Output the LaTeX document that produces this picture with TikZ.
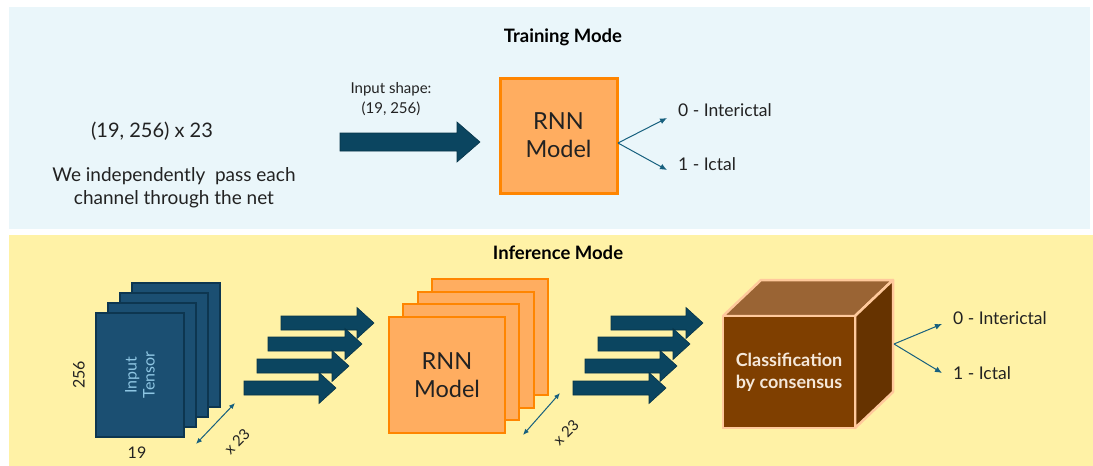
\documentclass[tikz,border=0pt]{standalone}
\usepackage{fontspec}
\setmainfont{Lato}
\usetikzlibrary{arrows.meta}
\definecolor{topbg}{HTML}{EAF6FA}
\definecolor{botbg}{HTML}{FFF2A6}
\definecolor{arrowfill}{HTML}{0B4560}
\definecolor{arrowedge}{HTML}{073448}
\definecolor{thinarrow}{HTML}{17607E}
\definecolor{tensorfill}{HTML}{1B4F72}
\definecolor{tensoredge}{HTML}{0D3650}
\definecolor{tensortext}{HTML}{8EC6E3}
\definecolor{rnnfill}{HTML}{FFAD60}
\definecolor{rnnedge}{HTML}{FF8500}
\definecolor{cubefront}{HTML}{7F3F00}
\definecolor{cubetop}{HTML}{9A6434}
\definecolor{cubeside}{HTML}{663300}
\definecolor{cubeedge}{HTML}{FFC99C}
\definecolor{cubetext}{HTML}{F5E8DA}
\definecolor{txt}{HTML}{222222}
\newcommand{\blockarrow}[6]{% x1 x2 y shafthalf headhalf headlen
  \filldraw[fill=arrowfill,draw=arrowedge,line width=0.6pt,line join=miter]
    (#1,#3-#4) -- (#2-#6,#3-#4) -- (#2-#6,#3-#5) -- (#2,#3) -- (#2-#6,#3+#5)
    -- (#2-#6,#3+#4) -- (#1,#3+#4) -- cycle;}
\tikzset{
  lbl/.style={text=txt,inner sep=0pt,font=\fontsize{17.5}{21}\selectfont},
  title/.style={text=black,inner sep=0pt,font=\fontsize{18.5}{22}\selectfont\bfseries},
  thin/.style={draw=thinarrow,line width=1pt,-{Latex[length=7pt,width=6pt]}},
  dbl/.style={draw=thinarrow,line width=1pt,{Latex[length=6pt,width=5pt]}-{Latex[length=6pt,width=5pt]}},
  tensorlayer/.style={fill=tensorfill,draw=tensoredge,line width=1.8pt},
  rnnlayer/.style={fill=rnnfill,draw=rnnedge,line width=2.2pt},
}
\begin{document}
\begin{tikzpicture}[x=1pt,y=-1pt]
\useasboundingbox (0,0) rectangle (1093,466);
\fill[white] (0,0) rectangle (1093,466);
\fill[topbg] (9,7) rectangle (1090,229);
\fill[botbg] (9,235) rectangle (1093,466);

% ---------- Training mode ----------
\node[title] (ttitle) at (563,37) {Training Mode};
\node[lbl,font=\fontsize{20}{24}\selectfont] (shape23) at (152,131) {(19, 256) x 23};
\node[lbl,font=\fontsize{19}{23}\selectfont,align=center] (indep) at (174,188) {We independently\ \ pass each\\channel through the net};
\node[lbl,align=center,font=\fontsize{15}{20}\selectfont] (inshape) at (391,99) {Input shape:\\(19, 256)};
\blockarrow{340}{480}{142}{9}{20}{23}
\node[rnnlayer,line width=3pt,minimum width=117pt,minimum height=115pt,inner sep=0pt,
  font=\fontsize{23.5}{28}\selectfont,text=txt,align=center] (rnn) at (558.5,135.5) {RNN\\Model};
\node[lbl,anchor=west] (t0) at (678,110) {0 - Interictal};
\node[lbl,anchor=west] (t1) at (678,164) {1 - Ictal};
\coordinate (rnnout) at (618,143);
\coordinate (t0tip) at (667,118);
\coordinate (t1tip) at (667,170);
\draw[thin] (rnnout) -- (t0tip);
\draw[thin] (rnnout) -- (t1tip);

% ---------- Inference mode ----------
\node[title] (ititle) at (558,253) {Inference Mode};

% input tensor stack
\foreach \i in {3,2,1}{
  \draw[tensorlayer] (96+12*\i,313-10*\i) rectangle (184+12*\i,437-10*\i);
}
\node[tensorlayer,minimum width=88pt,minimum height=124pt,inner sep=0pt] (tensor) at (140,375) {};
\node[text=tensortext,rotate=90,align=center,font=\fontsize{16}{18}\selectfont] (tensortxt) at (tensor.center) {Input\\Tensor};
\node[lbl,rotate=90,font=\fontsize{16}{18}\selectfont] (d256) at (79,375) {256};
\node[lbl,font=\fontsize{16}{18}\selectfont] (d19) at (137,453) {19};
\coordinate (ta) at (196,444);
\coordinate (tb) at (235,403);
\draw[dbl] (ta) -- (tb);
\node[lbl,rotate=45,font=\fontsize{15}{17}\selectfont] (x23a) at (237,442) {x 23};

% arrows tensor -> rnn
\blockarrow{281}{374}{323}{7}{15.5}{17}
\blockarrow{268}{362}{344}{7}{15.5}{17}
\blockarrow{257}{349}{366}{7}{15.5}{17}
\blockarrow{244}{336}{388}{7}{15.5}{17}

% rnn stack
\foreach \i in {3,2,1}{
  \draw[rnnlayer] (389+14.3*\i,317-12.7*\i) rectangle (505+14.3*\i,433-12.7*\i);
}
\node[rnnlayer,minimum width=116pt,minimum height=116pt,inner sep=0pt,
  font=\fontsize{23.5}{28}\selectfont,text=txt,align=center] (rnnstack) at (447,375) {RNN\\Model};
\coordinate (ra) at (523,435);
\coordinate (rb) at (560,393);
\draw[dbl] (ra) -- (rb);
\node[lbl,rotate=45,font=\fontsize{15}{17}\selectfont] (x23b) at (566,433) {x 23};

% arrows rnn -> cube
\blockarrow{611}{703}{323}{7}{15.5}{17}
\blockarrow{598}{690}{344}{7}{15.5}{17}
\blockarrow{585}{677}{366}{7}{15.5}{17}
\blockarrow{573}{666}{388}{7}{15.5}{17}

% cube
\filldraw[fill=cubetop,draw=cubeedge,line width=2.5pt,line join=round]
  (723,316) -- (761,280) -- (893,280) -- (855,316) -- cycle;
\filldraw[fill=cubeside,draw=cubeedge,line width=2.5pt,line join=round]
  (855,316) -- (893,280) -- (893,392) -- (855,428) -- cycle;
\node[fill=cubefront,draw=cubeedge,line width=2.5pt,minimum width=132pt,minimum height=112pt,
  inner sep=0pt,text=cubetext,font=\fontsize{18}{22}\selectfont\bfseries,align=center]
  (cube) at (789,372) {Classification\\by consensus};
\node[lbl,anchor=west] (c0) at (953,318) {0 - Interictal};
\node[lbl,anchor=west] (c1) at (953,373) {1 - Ictal};
\coordinate (cubeout) at (894,344);
\coordinate (c0tip) at (942,324);
\coordinate (c1tip) at (942,373);
\draw[thin] (cubeout) -- (c0tip);
\draw[thin] (cubeout) -- (c1tip);
\end{tikzpicture}
\end{document}
